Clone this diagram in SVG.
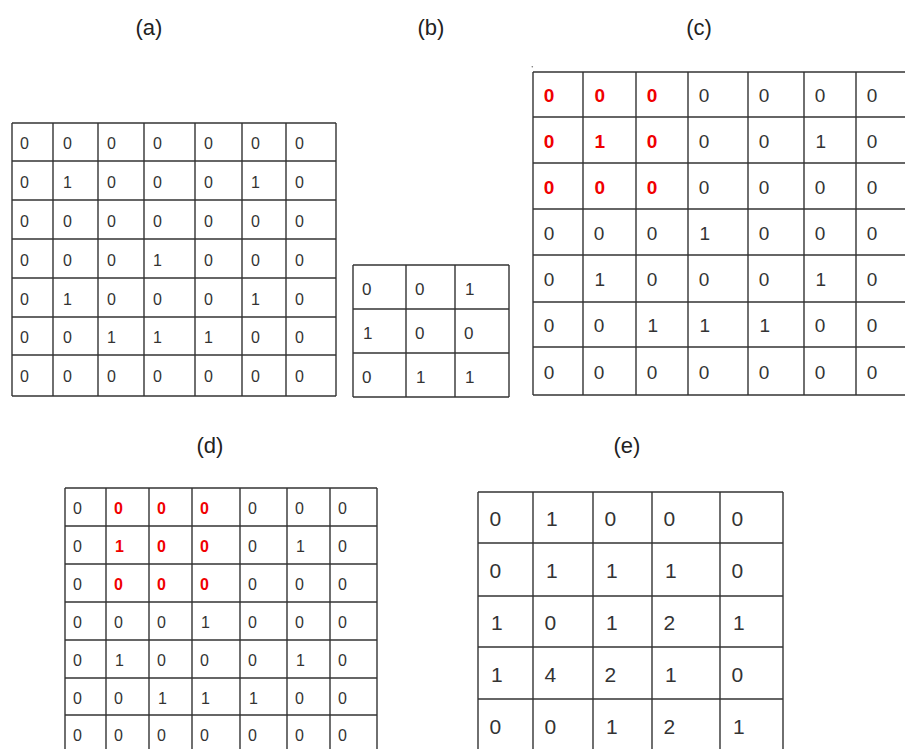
<svg xmlns="http://www.w3.org/2000/svg" width="905" height="749" viewBox="0 0 905 749">
<style>
.bg{fill:#ffffff}
.grid line{stroke:#333;stroke-width:1.4}
.t{font-family:"Liberation Sans",Arial,sans-serif;fill:#333}
.ttl{font-family:"Liberation Sans",Arial,sans-serif;font-size:22px;fill:#222;text-anchor:middle}
.a{font-size:16px}
.b{font-size:17px}
.c{font-size:19px}
.d{font-size:16px}
.e{font-size:21px}
.r{fill:#f00000;font-weight:bold}
</style>
<rect class="bg" x="0" y="0" width="905" height="749"/>
<g id="titles">
<text class="ttl" x="149" y="35">(a)</text>
<text class="ttl" x="431" y="35">(b)</text>
<text class="ttl" x="699" y="35">(c)</text>
<text class="ttl" x="210" y="453">(d)</text>
<text class="ttl" x="627" y="453">(e)</text>
</g>
<g id="table-a">
<g class="grid">
<line x1="12" y1="123" x2="12" y2="396"/><line x1="53" y1="123" x2="53" y2="396"/><line x1="98" y1="123" x2="98" y2="396"/><line x1="144" y1="123" x2="144" y2="396"/><line x1="195" y1="123" x2="195" y2="396"/><line x1="242" y1="123" x2="242" y2="396"/><line x1="286" y1="123" x2="286" y2="396"/><line x1="336" y1="123" x2="336" y2="396"/>
<line x1="12" y1="123" x2="336" y2="123"/><line x1="12" y1="161" x2="336" y2="161"/><line x1="12" y1="200" x2="336" y2="200"/><line x1="12" y1="239" x2="336" y2="239"/><line x1="12" y1="278" x2="336" y2="278"/><line x1="12" y1="317" x2="336" y2="317"/><line x1="12" y1="355" x2="336" y2="355"/><line x1="12" y1="396" x2="336" y2="396"/>
</g>
<g class="t a">
<text x="20" y="148.5">0</text><text x="63" y="148.5">0</text><text x="107" y="148.5">0</text><text x="153" y="148.5">0</text><text x="204" y="148.5">0</text><text x="251" y="148.5">0</text><text x="295" y="148.5">0</text>
<text x="20" y="187.5">0</text><text x="63" y="187.5">1</text><text x="107" y="187.5">0</text><text x="153" y="187.5">0</text><text x="204" y="187.5">0</text><text x="251" y="187.5">1</text><text x="295" y="187.5">0</text>
<text x="20" y="226.5">0</text><text x="63" y="226.5">0</text><text x="107" y="226.5">0</text><text x="153" y="226.5">0</text><text x="204" y="226.5">0</text><text x="251" y="226.5">0</text><text x="295" y="226.5">0</text>
<text x="20" y="265.5">0</text><text x="63" y="265.5">0</text><text x="107" y="265.5">0</text><text x="153" y="265.5">1</text><text x="204" y="265.5">0</text><text x="251" y="265.5">0</text><text x="295" y="265.5">0</text>
<text x="20" y="304.5">0</text><text x="63" y="304.5">1</text><text x="107" y="304.5">0</text><text x="153" y="304.5">0</text><text x="204" y="304.5">0</text><text x="251" y="304.5">1</text><text x="295" y="304.5">0</text>
<text x="20" y="343">0</text><text x="63" y="343">0</text><text x="107" y="343">1</text><text x="153" y="343">1</text><text x="204" y="343">1</text><text x="251" y="343">0</text><text x="295" y="343">0</text>
<text x="20" y="382">0</text><text x="63" y="382">0</text><text x="107" y="382">0</text><text x="153" y="382">0</text><text x="204" y="382">0</text><text x="251" y="382">0</text><text x="295" y="382">0</text>
</g>
</g>
<g id="table-b">
<g class="grid">
<line x1="353" y1="265" x2="353" y2="397"/><line x1="406" y1="265" x2="406" y2="397"/><line x1="455" y1="265" x2="455" y2="397"/><line x1="509" y1="265" x2="509" y2="397"/>
<line x1="353" y1="265" x2="509" y2="265"/><line x1="353" y1="309" x2="509" y2="309"/><line x1="353" y1="353" x2="509" y2="353"/><line x1="353" y1="397" x2="509" y2="397"/>
</g>
<g class="t b">
<text x="362" y="294.5">0</text><text x="415" y="294.5">0</text><text x="465" y="294.5">1</text>
<text x="363" y="338.5">1</text><text x="415" y="338.5">0</text><text x="464" y="338.5">0</text>
<text x="362" y="382.5">0</text><text x="416" y="382.5">1</text><text x="465" y="382.5">1</text>
</g>
</g>
<g id="table-c">
<circle cx="532.3" cy="66.7" r="0.8" fill="#777"/>
<g class="grid">
<line x1="533" y1="72" x2="533" y2="395"/><line x1="583" y1="72" x2="583" y2="395"/><line x1="636" y1="72" x2="636" y2="395"/><line x1="688" y1="72" x2="688" y2="395"/><line x1="748" y1="72" x2="748" y2="395"/><line x1="804" y1="72" x2="804" y2="395"/><line x1="856" y1="72" x2="856" y2="395"/>
<line x1="533" y1="72" x2="910" y2="72"/><line x1="533" y1="117" x2="910" y2="117"/><line x1="533" y1="163" x2="910" y2="163"/><line x1="533" y1="209" x2="910" y2="209"/><line x1="533" y1="255" x2="910" y2="255"/><line x1="533" y1="302" x2="910" y2="302"/><line x1="533" y1="347" x2="910" y2="347"/><line x1="533" y1="395" x2="910" y2="395"/>
</g>
<g class="t c">
<text class="r" x="543.7" y="102">0</text><text class="r" x="594.5" y="102">0</text><text class="r" x="646.7" y="102">0</text><text x="698.7" y="102">0</text><text x="758.7" y="102">0</text><text x="814.7" y="102">0</text><text x="866.7" y="102">0</text>
<text class="r" x="543.7" y="147.5">0</text><text class="r" x="594.5" y="147.5">1</text><text class="r" x="646.7" y="147.5">0</text><text x="698.7" y="147.5">0</text><text x="758.7" y="147.5">0</text><text x="815.5" y="147.5">1</text><text x="866.7" y="147.5">0</text>
<text class="r" x="543.7" y="193.5">0</text><text class="r" x="594.5" y="193.5">0</text><text class="r" x="646.7" y="193.5">0</text><text x="698.7" y="193.5">0</text><text x="758.7" y="193.5">0</text><text x="814.7" y="193.5">0</text><text x="866.7" y="193.5">0</text>
<text x="543.7" y="239.5">0</text><text x="593.7" y="239.5">0</text><text x="646.7" y="239.5">0</text><text x="699.5" y="239.5">1</text><text x="758.7" y="239.5">0</text><text x="814.7" y="239.5">0</text><text x="866.7" y="239.5">0</text>
<text x="543.7" y="286">0</text><text x="594.5" y="286">1</text><text x="646.7" y="286">0</text><text x="698.7" y="286">0</text><text x="758.7" y="286">0</text><text x="815.5" y="286">1</text><text x="866.7" y="286">0</text>
<text x="543.7" y="332">0</text><text x="593.7" y="332">0</text><text x="647.5" y="332">1</text><text x="699.5" y="332">1</text><text x="759.5" y="332">1</text><text x="814.7" y="332">0</text><text x="866.7" y="332">0</text>
<text x="543.7" y="378.5">0</text><text x="593.7" y="378.5">0</text><text x="646.7" y="378.5">0</text><text x="698.7" y="378.5">0</text><text x="758.7" y="378.5">0</text><text x="814.7" y="378.5">0</text><text x="866.7" y="378.5">0</text>
</g>
</g>
<g id="table-d">
<g class="grid">
<line x1="65" y1="488" x2="65" y2="760"/><line x1="106" y1="488" x2="106" y2="760"/><line x1="149" y1="488" x2="149" y2="760"/><line x1="192" y1="488" x2="192" y2="760"/><line x1="240" y1="488" x2="240" y2="760"/><line x1="287" y1="488" x2="287" y2="760"/><line x1="330" y1="488" x2="330" y2="760"/><line x1="377" y1="488" x2="377" y2="760"/>
<line x1="65" y1="488" x2="377" y2="488"/><line x1="65" y1="526" x2="377" y2="526"/><line x1="65" y1="564" x2="377" y2="564"/><line x1="65" y1="602" x2="377" y2="602"/><line x1="65" y1="640" x2="377" y2="640"/><line x1="65" y1="678" x2="377" y2="678"/><line x1="65" y1="715" x2="377" y2="715"/>
</g>
<g class="t d">
<text x="73" y="514">0</text><text class="r" x="114" y="514">0</text><text class="r" x="157" y="514">0</text><text class="r" x="200" y="514">0</text><text x="248" y="514">0</text><text x="295" y="514">0</text><text x="338" y="514">0</text>
<text x="73" y="552">0</text><text class="r" x="115" y="552">1</text><text class="r" x="157" y="552">0</text><text class="r" x="200" y="552">0</text><text x="248" y="552">0</text><text x="296" y="552">1</text><text x="338" y="552">0</text>
<text x="73" y="590">0</text><text class="r" x="114" y="590">0</text><text class="r" x="157" y="590">0</text><text class="r" x="200" y="590">0</text><text x="248" y="590">0</text><text x="295" y="590">0</text><text x="338" y="590">0</text>
<text x="73" y="628">0</text><text x="114" y="628">0</text><text x="157" y="628">0</text><text x="201" y="628">1</text><text x="248" y="628">0</text><text x="295" y="628">0</text><text x="338" y="628">0</text>
<text x="73" y="666">0</text><text x="115" y="666">1</text><text x="157" y="666">0</text><text x="200" y="666">0</text><text x="248" y="666">0</text><text x="296" y="666">1</text><text x="338" y="666">0</text>
<text x="73" y="703.5">0</text><text x="114" y="703.5">0</text><text x="158" y="703.5">1</text><text x="201" y="703.5">1</text><text x="249" y="703.5">1</text><text x="295" y="703.5">0</text><text x="338" y="703.5">0</text>
<text x="73" y="741">0</text><text x="114" y="741">0</text><text x="157" y="741">0</text><text x="200" y="741">0</text><text x="248" y="741">0</text><text x="295" y="741">0</text><text x="338" y="741">0</text>
</g>
</g>
<g id="table-e">
<g class="grid">
<line x1="478" y1="492" x2="478" y2="760"/><line x1="533" y1="492" x2="533" y2="760"/><line x1="593" y1="492" x2="593" y2="760"/><line x1="652" y1="492" x2="652" y2="760"/><line x1="720" y1="492" x2="720" y2="760"/><line x1="783" y1="492" x2="783" y2="760"/>
<line x1="478" y1="492" x2="783" y2="492"/><line x1="478" y1="543" x2="783" y2="543"/><line x1="478" y1="596" x2="783" y2="596"/><line x1="478" y1="647" x2="783" y2="647"/><line x1="478" y1="699" x2="783" y2="699"/>
</g>
<g class="t e">
<text x="489.5" y="526">0</text><text x="546" y="526">1</text><text x="604.5" y="526">0</text><text x="663.5" y="526">0</text><text x="731.5" y="526">0</text>
<text x="489.5" y="578">0</text><text x="546" y="578">1</text><text x="606" y="578">1</text><text x="665" y="578">1</text><text x="731.5" y="578">0</text>
<text x="491" y="630">1</text><text x="544.5" y="630">0</text><text x="606" y="630">1</text><text x="663.5" y="630">2</text><text x="733" y="630">1</text>
<text x="491" y="681.5">1</text><text x="544.5" y="681.5">4</text><text x="604.5" y="681.5">2</text><text x="665" y="681.5">1</text><text x="731.5" y="681.5">0</text>
<text x="489.5" y="734">0</text><text x="544.5" y="734">0</text><text x="606" y="734">1</text><text x="663.5" y="734">2</text><text x="733" y="734">1</text>
</g>
</g>
</svg>
